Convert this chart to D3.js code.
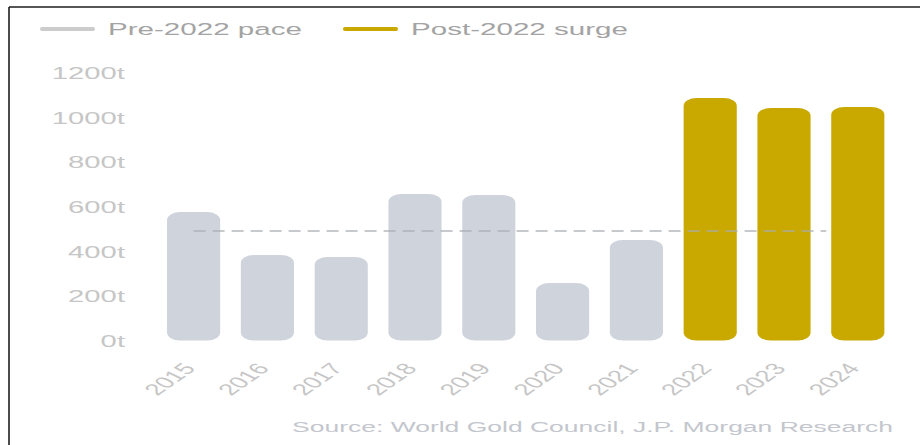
<!DOCTYPE html>
<html>
<head>
<meta charset="utf-8">
<script src="https://cdn.jsdelivr.net/npm/d3@7/dist/d3.min.js"></script>
<style>
  html, body { margin: 0; padding: 0; background: #fff; }
  svg { display: block; }
  text { font-family: "Liberation Sans", Arial, sans-serif; }
</style>
</head>
<body>
<svg id="chart" width="920" height="445"></svg>
<script>
const years = ['2015','2016','2017','2018','2019','2020','2021','2022','2023','2024'];
const values = [575, 383, 374, 656, 652, 257, 450, 1086, 1041, 1046];
const periods = ['pre','pre','pre','pre','pre','pre','pre','post','post','post'];
const preAverage = 490;
const yTicks = [0, 200, 400, 600, 800, 1000, 1200];
const legendLabels = ['Pre-2022 pace', 'Post-2022 surge'];
const legendKeys = ['pre', 'post'];
const sourceText = 'Source: World Gold Council, J.P. Morgan Research';

const colors = { pre: '#cfd4dc', post: '#c9a800' };
const legendColors = { pre: '#cccccc', post: '#c9a800' };
const SX = 1.72; // horizontal stretch of the reference

const svg = d3.select('#chart');

const x = d3.scaleBand().domain(years).range([156.7, 894.7]).paddingInner(0.28).paddingOuter(0.14);
const y = d3.scaleLinear().domain([0, 1200]).range([340.5, 72.5]);

// frame lines (cropped border)
svg.append('line').attr('x1', 9).attr('x2', 920).attr('y1', 7).attr('y2', 7)
  .attr('stroke', '#1e1e1e').attr('stroke-width', 1.6);
svg.append('line').attr('x1', 9).attr('x2', 9).attr('y1', 7).attr('y2', 445)
  .attr('stroke', '#1e1e1e').attr('stroke-width', 1.6);

// legend
const lg = svg.append('g');
const legendX = [42, 345];
legendKeys.forEach((k, i) => {
  lg.append('line').attr('x1', legendX[i]).attr('x2', legendX[i] + 51)
    .attr('y1', 29).attr('y2', 29)
    .attr('stroke', legendColors[k]).attr('stroke-width', 4).attr('stroke-linecap', 'round');
  lg.append('text')
    .attr('transform', `translate(${legendX[i] + 66},35) scale(${SX},1)`)
    .attr('font-size', 17.2).attr('fill', '#a3a3a3')
    .text(legendLabels[i]);
});

// y axis labels
const yAxis = d3.axisLeft(y).tickValues(yTicks).tickFormat(d => d + 't').tickSize(0).tickPadding(0);
const yg = svg.append('g').attr('transform', 'translate(125,0)').call(yAxis);
yg.select('.domain').remove();
yg.selectAll('.tick text')
  .attr('x', 0).attr('dy', '0.35em')
  .attr('font-size', 17).attr('fill', '#c6c6c6')
  .attr('font-family', '"Liberation Sans", Arial, sans-serif')
  .attr('text-anchor', 'end')
  .attr('transform', `scale(${SX},1)`);

// bars
svg.append('g').selectAll('rect').data(years).join('rect')
  .attr('x', d => x(d))
  .attr('width', x.bandwidth())
  .attr('y', (d, i) => y(values[i]))
  .attr('height', (d, i) => y(0) - y(values[i]))
  .attr('rx', 13).attr('ry', 8)
  .attr('fill', (d, i) => colors[periods[i]]);

// average dashed line
svg.append('line')
  .attr('x1', x(years[0]) + x.bandwidth() / 2)
  .attr('x2', x(years[years.length - 1]) - 5)
  .attr('y1', y(preAverage)).attr('y2', y(preAverage))
  .attr('stroke', '#a9adb3').attr('stroke-width', 1.5)
  .attr('stroke-dasharray', '12,7').attr('opacity', 0.85);

// x axis labels
const xAxis = d3.axisBottom(x).tickSize(0).tickPadding(0);
const xg = svg.append('g').attr('transform', 'translate(0,369)').call(xAxis);
xg.select('.domain').remove();
xg.selectAll('.tick text')
  .attr('y', 0).attr('dy', 0)
  .attr('font-size', 16).attr('fill', '#c6c6c6')
  .attr('font-family', '"Liberation Sans", Arial, sans-serif')
  .attr('text-anchor', 'end')
  .attr('transform', `translate(3,0) scale(${SX},1) rotate(-50)`);

// source
svg.append('text')
  .attr('transform', `translate(893,432) scale(${SX},1)`)
  .attr('text-anchor', 'end')
  .attr('font-size', 15.4).attr('fill', '#c3c6cd')
  .text(sourceText);
</script>
</body>
</html>
